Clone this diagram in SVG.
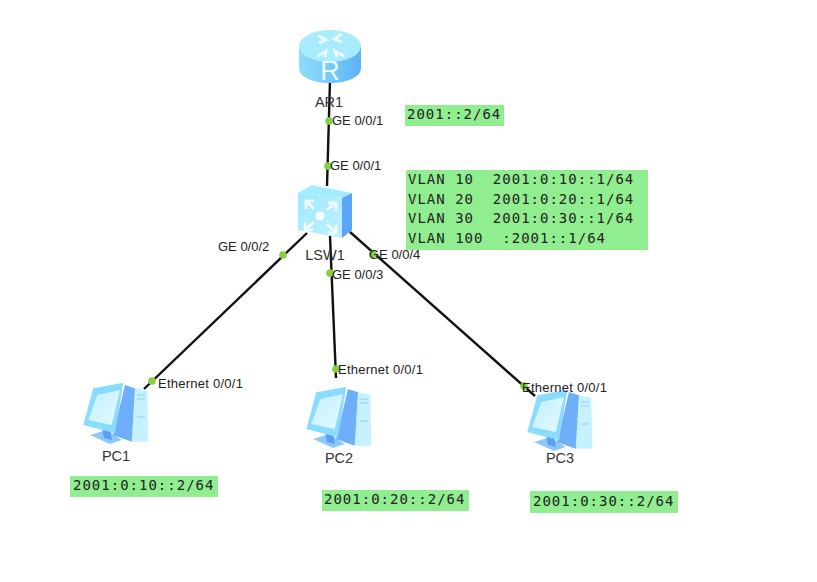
<svg xmlns="http://www.w3.org/2000/svg" width="817" height="582" viewBox="0 0 817 582">
  <style>
    .link { stroke: #111; stroke-width: 2.4; fill: none; }
    .dot { fill: #86cf3e; }
    .label { font-family: "Liberation Sans", Arial, sans-serif; font-size: 13px; fill: #222; }
    .wide { letter-spacing: 0.25px; }
    .name { font-family: "Liberation Sans", Arial, sans-serif; font-size: 14.5px; fill: #333; }
    .addr { font-family: "DejaVu Sans Mono", "Liberation Mono", monospace; font-size: 14px; letter-spacing: 1px; fill: #222; }
    .note { fill: #90ee90; }
    .glyph { fill: none; stroke: #eefcff; stroke-width: 2.8; }
  </style>
  <defs>
    <linearGradient id="routerBody" x1="0" y1="0" x2="1" y2="0">
      <stop offset="0" stop-color="#8fdcfb"/>
      <stop offset="0.55" stop-color="#72c8f8"/>
      <stop offset="1" stop-color="#5fb2f6"/>
    </linearGradient>
    <linearGradient id="switchFace" x1="0" y1="0" x2="1" y2="1">
      <stop offset="0" stop-color="#9fe9ff"/>
      <stop offset="1" stop-color="#bff0ff"/>
    </linearGradient>
    <linearGradient id="screen" x1="0" y1="0" x2="1" y2="1">
      <stop offset="0" stop-color="#c0efff"/>
      <stop offset="1" stop-color="#e6faff"/>
    </linearGradient>
    <g id="pc">
      <polygon points="7,55 23.7,50 38.7,60 27,64" fill="#8cc8fb"/>
      <polygon points="19,48 27,48 29,60 21,58" fill="#5a9ff5"/>
      <polygon points="52,8.3 64.3,10.7 65.3,61.7 48.7,61.7" fill="#c6f1ff"/>
      <polygon points="42,5 52,8.3 48.7,61.7 30,55" fill="#6eaefb"/>
      <polygon points="10.3,8.3 40.3,2.7 32,53.3 0.3,45" fill="#8adcff"/>
      <polygon points="14.3,15 37,10 28.7,45 5.3,40" fill="url(#screen)"/>
      <path d="M54 15h8M54 19h8M54 37h8" stroke="#8fd0f5" stroke-width="1" fill="none"/>
    </g>
  </defs>

  <!-- links between the router, the switch and the hosts -->
  <g id="connectors">
    <line class="link" x1="330" y1="80" x2="327" y2="186"/>
    <line class="link" x1="307" y1="233" x2="144" y2="389"/>
    <line class="link" x1="330" y1="236" x2="336" y2="378"/>
  </g>

  <g id="AR1">
    <path d="M299 46V68C299 77 313 83 330 83S361 77 361 68V46Z" fill="url(#routerBody)"/>
    <ellipse cx="330" cy="46" rx="31" ry="16" fill="#a9ecff"/>
    <path class="glyph" stroke-width="2" d="M319 36l7 4-7 3M320 36h-2M342 34l-8 5 8 3M318 56l8-5-1 6M344 56l-9-5 2 6"/>
    <text x="330" y="80" text-anchor="middle" font-family="'Liberation Sans', Arial, sans-serif" font-size="27" fill="#eefcff">R</text>
    <text class="name" x="329" y="107" text-anchor="middle">AR1</text>
  </g>

  <g id="LSW1">
    <polygon points="298,193 312,185 352,193 342,198" fill="#a3ecff"/>
    <polygon points="342,198 352,193 352,230 342,238" fill="#5aa5f8"/>
    <polygon points="298,193 342,198 342,238 298,230" fill="url(#switchFace)"/>
    <circle cx="320" cy="216" r="4.5" fill="#f2feff"/>
    <path class="glyph" d="M306 201l8 8M306 209v-8h8M336 203l-9 7M336 211v-8h-8M305 230l9-8M305 222v8h8M336 233l-9-9M336 225v8h-8"/>
    <text class="name" x="325" y="260" text-anchor="middle">LSW1</text>
  </g>

  <g id="PC1">
    <use href="#pc" x="83" y="380"/>
    <text class="name" x="116" y="461" text-anchor="middle">PC1</text>
  </g>
  <g id="PC2">
    <use href="#pc" x="306" y="384"/>
    <text class="name" x="339" y="463" text-anchor="middle">PC2</text>
  </g>
  <g id="PC3">
    <use href="#pc" x="527" y="387"/>
    <line class="link" x1="350" y1="232" x2="535" y2="396"/>
    <text class="name" x="560" y="463" text-anchor="middle">PC3</text>
  </g>

  <!-- interface markers and their names -->
  <g id="ports">
    <circle class="dot" cx="329" cy="121" r="3.8"/>
    <circle class="dot" cx="328" cy="166" r="3.8"/>
    <circle class="dot" cx="283" cy="255" r="3.8"/>
    <circle class="dot" cx="330" cy="273" r="3.8"/>
    <circle class="dot" cx="373" cy="254" r="3.8"/>
    <circle class="dot" cx="152" cy="381" r="3.8"/>
    <circle class="dot" cx="336" cy="369" r="3.8"/>
    <circle class="dot" cx="524" cy="386" r="3.8"/>
    <text class="label" x="332" y="125">GE 0/0/1</text>
    <text class="label" x="330" y="170">GE 0/0/1</text>
    <text class="label" x="218" y="251">GE 0/0/2</text>
    <text class="label" x="332" y="279">GE 0/0/3</text>
    <text class="label" x="369" y="259">GE 0/0/4</text>
    <text class="label wide" x="158" y="388">Ethernet 0/0/1</text>
    <text class="label wide" x="338" y="374">Ethernet 0/0/1</text>
    <text class="label wide" x="522" y="392">Ethernet 0/0/1</text>
  </g>

  <!-- address notes -->
  <g id="addresses">
    <rect class="note" x="405" y="105" width="99" height="21"/>
    <text class="addr" x="407" y="119">2001::2/64</text>
    <rect class="note" x="406" y="170" width="242" height="80"/>
    <text class="addr" x="408" y="184" xml:space="preserve">VLAN 10  2001:0:10::1/64</text>
    <text class="addr" x="408" y="204" xml:space="preserve">VLAN 20  2001:0:20::1/64</text>
    <text class="addr" x="408" y="223" xml:space="preserve">VLAN 30  2001:0:30::1/64</text>
    <text class="addr" x="408" y="243" xml:space="preserve">VLAN 100  :2001::1/64</text>
    <rect class="note" x="70" y="476" width="148" height="21"/>
    <text class="addr" x="73" y="490">2001:0:10::2/64</text>
    <rect class="note" x="322" y="490" width="147" height="21"/>
    <text class="addr" x="324" y="504">2001:0:20::2/64</text>
    <rect class="note" x="530" y="491" width="148" height="22"/>
    <text class="addr" x="533" y="506">2001:0:30::2/64</text>
  </g>
</svg>
